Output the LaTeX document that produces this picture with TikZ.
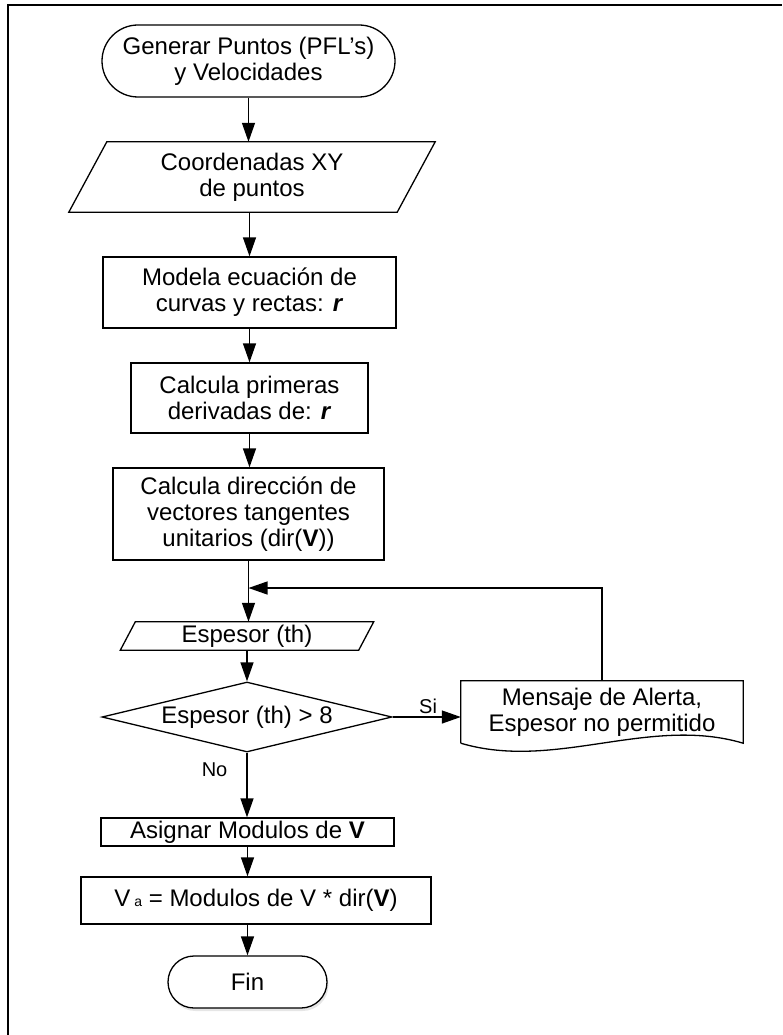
\documentclass[tikz,border=0pt]{standalone}
\usepackage{fontspec}
\setmainfont{Liberation Sans}
\usetikzlibrary{arrows.meta}
\usetikzlibrary{calc}
\usetikzlibrary{shapes.geometric}
\usetikzlibrary{shadows}

\tikzset{
  caja/.style={draw, fill=white, line width=1.3pt, align=center, inner sep=0pt},
  texto/.style={align=center, inner sep=0pt},
  rombo/.style={caja, diamond, aspect=4},
  flecha/.style={line width=1.3pt, -{Triangle[length=19pt,width=13pt]}},
  etiqueta/.style={inner sep=0pt, font=\fontsize{20}{22}\selectfont},
}
% entrada de datos: contorno inclinado alrededor de un nodo
\newcommand{\paralelo}[2]{%
  \draw[line width=1.3pt] ($(#1.north west)+(#2,0)$) -- ($(#1.north east)+(#2,0)$)
    -- ($(#1.south east)-(#2,0)$) -- ($(#1.south west)-(#2,0)$) -- cycle;}

\begin{document}
\begin{tikzpicture}[x=1pt, y=-1pt, font=\fontsize{24}{26}\selectfont]
      \useasboundingbox (0,0) rectangle (782,1035);
      \draw[line width=2pt] (8,1035) -- (8,5) -- (782,5);

      \node (inicio) at (248.5,61) [caja, rounded corners=36pt, minimum width=293pt, minimum height=72pt] {Generar Puntos (PFL's)\\y Velocidades};
      \node (coord) at (252,177) [texto, minimum width=328pt, minimum height=70pt] {Coordenadas XY\\de puntos};
      \paralelo{coord}{19}
      \node (modela) at (249.5,292.5) [caja, minimum width=293pt, minimum height=71pt] {Modela ecuación de\\curvas y rectas: \textbf{\textit{r}}};
      \node (derivadas) at (249.5,398) [caja, minimum width=237pt, minimum height=70pt] {Calcula primeras\\derivadas de: \textbf{\textit{r}}};
      \node (direccion) at (248.5,514) [caja, minimum width=271pt, minimum height=92pt] {Calcula dirección de\\vectores tangentes\\unitarios (dir(\textbf{V}))};
      \node (espesor) at (247,636) [texto, minimum width=238pt, minimum height=28pt] {Espesor (th)};
      \paralelo{espesor}{7.5}
      \node (comparar) at (247,717) [rombo, minimum width=290pt, minimum height=70pt] {Espesor (th) > 8};
      \node (alerta) at (602,712) [texto, minimum width=282pt, minimum height=62pt] {Mensaje de Alerta,\\Espesor no permitido};
      \draw[line width=1.3pt] (alerta.south west) -- (alerta.north west) -- (alerta.north east) -- (alerta.south east)
        .. controls ($(alerta.south east)+(-94,-28)$) and ($(alerta.south west)+(94,28)$) .. (alerta.south west);
      \node (asignar) at (247.5,832) [caja, minimum width=293pt, minimum height=28pt] {Asignar Modulos de \textbf{V}};
      \node (va) at (256,900.5) [caja, minimum width=350pt, minimum height=47pt] {V\,{\fontsize{14}{14}\selectfont a} = Modulos de V * dir(\textbf{V})};
      \node (fin) at (247.5,982) [caja, rounded corners=26pt, minimum width=159pt, minimum height=52pt,
        drop shadow={shadow xshift=1.5pt, shadow yshift=-3pt, opacity=0.2}] {Fin};

      \coordinate (union) at (248.5,588);

      \draw[flecha] (inicio.south) -- (inicio.south |- coord.north);
      \draw[flecha] (modela.north |- coord.south) -- (modela.north);
      \draw[flecha] (modela.south) -- (derivadas.north);
      \draw[flecha] (derivadas.south) -- (derivadas.south |- direccion.north);
      \draw[flecha] (direccion.south) -- (direccion.south |- espesor.north);
      \draw[flecha] (alerta.north) |- (union);
      \draw[flecha] (comparar.north |- espesor.south) -- (comparar.north);
      \draw[flecha] (comparar.east) -- (comparar.east -| alerta.west) node[etiqueta, pos=0.52, above=3pt] {Si};
      \draw[flecha] (comparar.south) -- (comparar.south |- asignar.north) node[etiqueta, pos=0.26, left=19pt] {No};
      \draw[flecha] (asignar.south) -- (asignar.south |- va.north);
      \draw[flecha] (asignar.south |- va.south) -- (fin.north);
\end{tikzpicture}
\end{document}
